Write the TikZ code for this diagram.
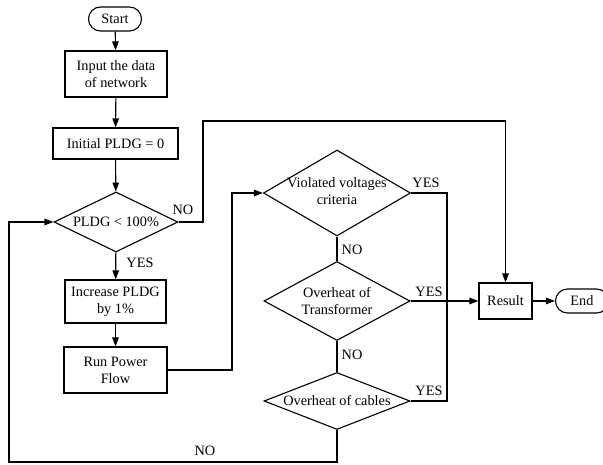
\documentclass[tikz,border=0pt]{standalone}
\usepackage{fontspec}
\setmainfont{Liberation Serif}
\usetikzlibrary{arrows.meta}
\usetikzlibrary{shapes.geometric,shapes.misc}

\tikzset{
	box/.style={draw, rectangle, inner sep=0pt, align=center},
	term/.style={draw, rounded rectangle, minimum width=53pt, minimum height=24pt, inner sep=0pt},
	dec/.style={draw, diamond, inner sep=0pt},
	flow/.style={-{Triangle[length=9pt,width=6.5pt]}},
}

\begin{document}
\begin{tikzpicture}[x=1pt, y=-1pt, line width=1.1pt, font=\fontsize{14.3}{17}\selectfont]
		\useasboundingbox (0,0) rectangle (603,465);
		\node[term] (start) at (115,19) {Start};
		\node[box, minimum width=102pt, minimum height=46pt] (input) at (116,74) {Input the data\\of network};
		\node[box, minimum width=125pt, minimum height=31pt] (init) at (115.5,143.5) {Initial PLDG = 0};
		\node[dec, minimum width=124pt, minimum height=60pt] (pldg) at (116,222) {};
		\node (pldgtxt) at (pldg) {PLDG < 100\%};
		\node[box, minimum width=101pt, minimum height=43pt] (incr) at (115.5,301.5) {Increase PLDG\\by 1\%};
		\node[box, minimum width=103pt, minimum height=46pt] (run) at (115.5,370) {Run Power\\Flow};
		
		\node[dec, minimum width=147pt, minimum height=86pt] (volt) at (337,193) {};
		\node[align=center] (volttxt) at (337,191) {Violated voltages\\criteria};
		\node[dec, minimum width=146pt, minimum height=79pt] (trafo) at (337,301) {};
		\node[align=center] (trafotxt) at (337,301) {Overheat of\\Transformer};
		\node[dec, minimum width=146pt, minimum height=57pt] (cabl) at (337,401) {};
		\node (cabltxt) at (cabl) {Overheat of cables};
		
		\node[box, minimum width=53pt, minimum height=36pt] (res) at (505.5,301) {Result};
		\node[term] (end) at (582,301) {End};
		
		\coordinate (up) at (203,121);
		\coordinate (toV) at (232,193);
		\coordinate (yesbus) at (447,401);
		\coordinate (back) at (9,462);
		
		\draw[flow] (start) -- (input);
		\draw[flow] (input) -- (init);
		\draw[flow] (init) -- (pldg);
		\draw[flow] (pldg) -- (incr);
		\draw[flow] (incr) -- (run);
		\draw[flow] (run.east) -| (toV) -- (volt.west);
		\draw (volt) -- (trafo);
		\draw (trafo) -- (cabl);
		\draw (volt.east) -| (yesbus) -- (cabl.east);
		\draw[flow] (trafo.east) -- (res.west);
		\draw[flow] (res) -- (end);
		\draw[flow] (pldg.east) -| (up) -| (res.north);
		\draw[flow] (cabl.south) |- (back) |- (pldg.west);
		
		\node (yes0) at (140,263) {YES};
		\node (no0) at (183,210) {NO};
		\node (yes1) at (426,183) {YES};
		\node (yes2) at (429,292) {YES};
		\node (yes3) at (429,391) {YES};
		\node (no1) at (352,250) {NO};
		\node (no2) at (352,355) {NO};
		\node (no3) at (205,451) {NO};
		\end{tikzpicture}
\end{document}
